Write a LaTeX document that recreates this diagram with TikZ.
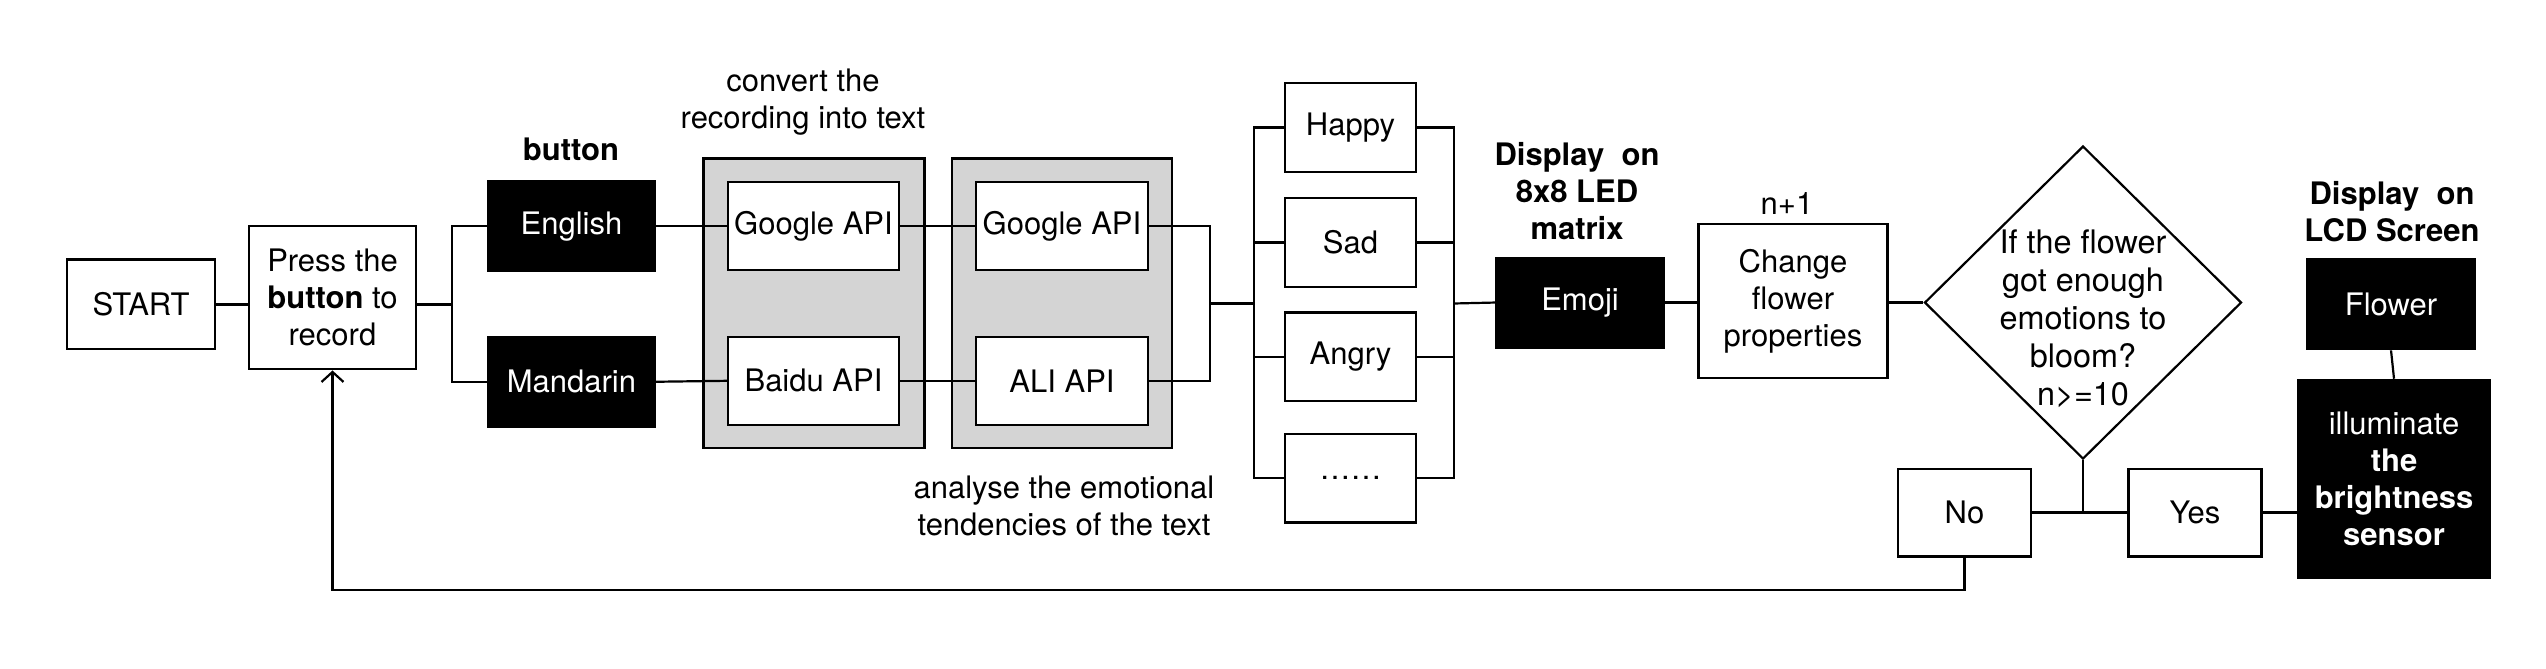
\documentclass[tikz,border=0pt]{standalone}
\usepackage{fontspec}
\setmainfont{TeX Gyre Heros}
\usetikzlibrary{arrows,arrows.meta,shapes.geometric}
\tikzset{
	box/.style={draw, rectangle, fill=white, inner sep=0pt, align=center},
	blackbox/.style={box, fill=black, text=white},
	apibg/.style={draw, rectangle, fill=black!17, inner sep=0pt},
	tag/.style={align=center, font=\fontsize{15.5}{18.5}\selectfont\bfseries},
	note/.style={align=center}
}

\begin{document}
\begin{tikzpicture}[x=0.5pt, y=-0.4772pt, line width=1.1pt, font=\fontsize{15.5}{18.5}\selectfont,
		>={Straight Barb[length=5pt, width=11pt]}]
		\useasboundingbox (0,0) rectangle (2546,700);
		\node[apibg, minimum width=110.5pt, minimum height=144.6pt] (speechbg) at (814,317.5) {};
		\node[apibg, minimum width=110pt, minimum height=144.6pt] (moodbg) at (1062,317.5) {};
		%
		\node[box, minimum width=74pt, minimum height=44.9pt] (start) at (141,319) {START};
		\node[box, minimum width=83.5pt, minimum height=71.6pt] (press) at (332.5,312) {Press the\\\textbf{button} to\\record};
		\node[blackbox, minimum width=83.5pt, minimum height=44.9pt] (eng) at (571.5,237) {English};
		\node[blackbox, minimum width=83.5pt, minimum height=44.9pt] (man) at (571.5,400) {Mandarin};
		\node[tag] (btntag) at (571,156) {button};
		\node[box, minimum width=85.5pt, minimum height=43.9pt] (gspeech) at (813.5,237) {Google API};
		\node[box, minimum width=85.5pt, minimum height=43.9pt] (baidu) at (813.5,399) {Baidu API};
		\node[box, minimum width=86pt, minimum height=43.9pt] (gmood) at (1062,237) {Google API};
		\node[box, minimum width=86pt, minimum height=43.9pt] (ali) at (1062,399) {ALI API};
		\node[note] (speechtag) at (803,107) {convert the\\recording into text};
		\node[note] (moodtag) at (1064,530) {analyse the emotional\\tendencies of the text};
		%
		\node[box, minimum width=65.5pt, minimum height=44.4pt] (happy) at (1350.5,133.5) {Happy};
		\node[box, minimum width=65.5pt, minimum height=44.4pt] (sad) at (1350.5,254) {Sad};
		\node[box, minimum width=65.5pt, minimum height=44.4pt] (angry) at (1350.5,374) {Angry};
		\node[box, minimum width=65.5pt, minimum height=44.4pt] (more) at (1350.5,501) {……};
		\node[blackbox, minimum width=84pt, minimum height=44.9pt] (emoji) at (1580,317) {Emoji};
		\node[tag] (ledtag) at (1577,200) {Display~~on\\8x8 LED\\matrix};
		\node[box, minimum width=94.5pt, minimum height=76.8pt] (change) at (1793,315.5) {Change\\flower\\properties};
		\node[note] (count) at (1787,213) {n+1};
		%
		\node[draw, diamond, inner sep=0pt, minimum width=158.5pt, minimum height=156.5pt] (bloom) at (2083,317) {};
		\node[note, font=\fontsize{16.2}{18.9}\selectfont] (bloomtext) at (2083,334) {If the flower\\got enough\\emotions to\\bloom?\\n>=10};
		\node[box, minimum width=66.5pt, minimum height=43.9pt] (no) at (1964.5,537) {No};
		\node[box, minimum width=66.5pt, minimum height=43.9pt] (yes) at (2195,537) {Yes};
		\node[blackbox, minimum width=84pt, minimum height=45.3pt] (flower) at (2391,318.5) {Flower};
		\node[blackbox, minimum width=96pt, minimum height=98.8pt] (bright) at (2394,501.5) {illuminate\\\textbf{the}\\\textbf{brightness}\\\textbf{sensor}};
		\node[tag] (lcdtag) at (2392,222) {Display~~on\\LCD Screen};
		%
		\coordinate (split) at (452,319);
		\coordinate (merge) at (1210,318);
		\coordinate (fanin) at (1253.6,318);
		\coordinate (fanout) at (1454,318);
		\coordinate (choose) at (2083,537);
		%
		\draw (start.east) to (start.east -| press.west);
		\draw (start.east -| press.east) to (split);
		\draw (eng.west) -| (split) |- (man.west);
		\draw (eng.east) to (gspeech.west);
		\draw (man.east) to (baidu.west);
		\draw (gspeech.east) to (gmood.west);
		\draw (baidu.east) to (ali.west);
		\draw (gmood.east) -| (merge) |- (ali.east);
		\draw (merge) to (fanin);
		\draw (happy.west) -| (fanin);
		\draw (sad.west) -| (fanin);
		\draw (angry.west) -| (fanin);
		\draw (more.west) -| (fanin);
		\draw (happy.east) -| (fanout);
		\draw (sad.east) -| (fanout);
		\draw (angry.east) -| (fanout);
		\draw (more.east) -| (fanout);
		\draw (fanout) to (emoji.west);
		\draw (emoji.east) to (change.west |- emoji.east);
		\draw (change.east |- bloom.west) to (bloom.west);
		\draw (bloom.south) to (choose);
		\draw (no.east) to (yes.west);
		\draw (yes.east) to (bright.west |- yes.east);
		\draw (flower.south) to (bright.north);
		\draw [->] (no.south) -- ++(0,34) -| (press.south);
	\end{tikzpicture}
\end{document}
